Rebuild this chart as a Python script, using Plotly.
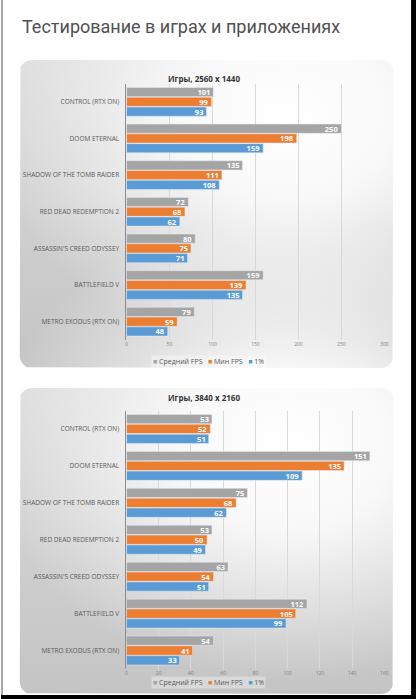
import numpy as np
import plotly.graph_objects as go

# data
games = ['CONTROL (RTX ON)', 'DOOM ETERNAL', 'SHADOW OF THE TOMB RAIDER',
         'RED DEAD REDEMPTION 2', "ASSASSIN'S CREED ODYSSEY", 'BATTLEFIELD V',
         'METRO EXODUS (RTX ON)']
avg_1440 = [101, 250, 135, 72, 80, 159, 79]
min_1440 = [99, 198, 111, 68, 75, 139, 59]
low_1440 = [93, 159, 108, 62, 71, 135, 48]
avg_2160 = [53, 151, 75, 53, 63, 112, 54]
min_2160 = [52, 135, 68, 50, 54, 105, 41]
low_2160 = [51, 109, 62, 49, 51, 99, 33]
series_names = ['Средний FPS', 'Мин FPS', '1%']
series_colors = ['#A5A5A5', '#ED7D31', '#5B9BD5']
chart_titles = ['Игры, 2560 x 1440', 'Игры, 3840 x 2160']
page_title = 'Тестирование в играх и приложениях'

W, H = 420, 699


def rounded_box(x0, y0, x1, y1, r=12, n=10):
    """Outline of a rounded rectangle in pixel coords (y down)"""
    xs, ys = [], []
    corners = [(x1 - r, y0 + r, -90, 0), (x1 - r, y1 - r, 0, 90),
               (x0 + r, y1 - r, 90, 180), (x0 + r, y0 + r, 180, 270)]
    for cx, cy, a0, a1 in corners:
        for a in np.radians(np.linspace(a0, a1, n)):
            xs.append(cx + r * np.cos(a))
            ys.append(cy + r * np.sin(a))
    xs.append(xs[0])
    ys.append(ys[0])
    return xs, ys


def ellipse(cx, cy, rx, ry, n=90):
    t = np.linspace(0, 2 * np.pi, n)
    return cx + rx * np.cos(t), cy + ry * np.sin(t)


def py(pix):
    return 1 - pix / H


fig = go.Figure()

# card backgrounds on a full-page pixel axis: grey vertical ramp + white glow
boxes = [(19, 60, 397, 368), (19, 388, 397, 694)]
for x0, y0, x1, y1 in boxes:
    bx, by = rounded_box(x0, y0, x1, y1)
    fig.add_trace(go.Scatter(x=bx, y=by, mode='lines', fill='toself',
                             line=dict(width=0), hoverinfo='skip', showlegend=False,
                             fillgradient=dict(type='vertical', start=y0, stop=y1,
                                               colorscale=[[0, '#dcdcdc'], [1, '#c4c4c4']]),
                             xaxis='x', yaxis='y'))
    ex, ey = ellipse(290, y0 + 60, 300, 235)
    fig.add_trace(go.Scatter(x=ex, y=ey, mode='lines', fill='toself',
                             line=dict(width=0), hoverinfo='skip', showlegend=False,
                             fillgradient=dict(type='radial', colorscale=[
                                 [0, 'rgba(255,255,255,1)'], [0.35, 'rgba(255,255,255,0.85)'],
                                 [0.6, 'rgba(255,255,255,0.5)'], [1, 'rgba(255,255,255,0)']]),
                             xaxis='x', yaxis='y'))

datasets = [(avg_1440, min_1440, low_1440), (avg_2160, min_2160, low_2160)]
for k, values in enumerate(datasets):
    ax = str(k + 2)
    for name, color, vals in zip(series_names, series_colors, values):
        fig.add_trace(go.Bar(
            y=games, x=vals, name=name, orientation='h', marker_color=color,
            text=vals, textposition='inside', insidetextanchor='end',
            textangle=0, constraintext='none',
            textfont=dict(family='Open Sans', size=7.5, color='white', weight='bold'),
            showlegend=False, xaxis='x' + ax, yaxis='y' + ax))

xdom = [127 / W, 388 / W]
ydoms = [[py(340), py(83.5)], [py(669), py(410.5)]]
ranges = [[0, 300], [0, 160]]
dticks = [50, 20]

layout_axes = dict(
    xaxis=dict(domain=[0, 1], range=[0, W], visible=False, fixedrange=True),
    yaxis=dict(domain=[0, 1], range=[H, 0], visible=False, fixedrange=True),
)
for k in range(2):
    ax = str(k + 2)
    layout_axes['xaxis' + ax] = dict(
        domain=xdom, range=ranges[k], dtick=dticks[k], anchor='y' + ax,
        showgrid=True, gridcolor='#d9d9d9', gridwidth=1, zeroline=False,
        showline=False, ticks='',
        tickfont=dict(family='Open Sans', size=5, color='#7f7f7f'))
    layout_axes['yaxis' + ax] = dict(
        domain=ydoms[k], anchor='x' + ax, autorange='reversed', type='category',
        showline=True, linecolor='#8c8c8c', linewidth=1, showgrid=False,
        ticks='', ticklabelstandoff=5,
        tickfont=dict(family='Open Sans', size=6.5, color='#595959'))

legend_text = '   '.join(
    "<span style='color:%s'>■</span> %s" % (c, n)
    for c, n in zip(series_colors, series_names))

annotations = [dict(text=page_title, x=19 / W, y=py(26), xref='paper', yref='paper',
                    xanchor='left', yanchor='middle', showarrow=False,
                    font=dict(family='Roboto', size=18, color='#505050'))]
title_y = [71, 397]
legend_y = [361, 689]
for k in range(2):
    annotations.append(dict(text=chart_titles[k], x=205 / W, y=py(title_y[k]),
                            xref='paper', yref='paper', showarrow=False,
                            font=dict(family='Open Sans', size=8, color='#333333',
                                      weight='bold')))
    annotations.append(dict(text=legend_text, x=210 / W, y=py(legend_y[k]),
                            xref='paper', yref='paper', showarrow=False,
                            bgcolor='rgba(255,255,255,0.35)', borderpad=1,
                            font=dict(family='Open Sans', size=7, color='#595959')))

shapes = [
    dict(type='line', xref='paper', yref='paper', x0=1 / W, x1=1 / W, y0=0, y1=1,
         line=dict(color='#a6a6a6', width=2)),
    dict(type='rect', xref='paper', yref='paper', x0=415 / W, x1=1, y0=0, y1=1,
         fillcolor='#000000', line=dict(width=0)),
    dict(type='rect', xref='paper', yref='paper', x0=0, x1=1, y0=0, y1=py(695),
         fillcolor='#000000', line=dict(width=0)),
]

fig.update_layout(
    width=W, height=H, margin=dict(l=0, r=0, t=0, b=0),
    paper_bgcolor='white', plot_bgcolor='rgba(0,0,0,0)',
    barmode='group', bargap=0.2, bargroupgap=0.06,
    annotations=annotations, shapes=shapes, showlegend=False,
    **layout_axes)

# drop the default page margin so the figure sits flush in the window
fig.write_html("out.html", config={'displayModeBar': False},
               post_script="document.body.style.margin='0';")
